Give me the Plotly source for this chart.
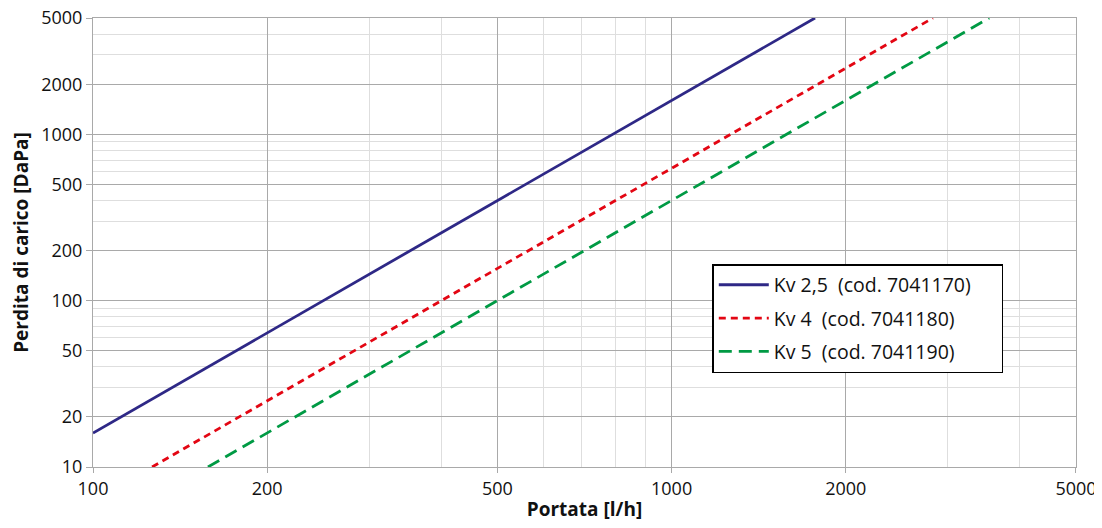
import plotly.graph_objects as go

# Data (flow in l/h, pressure drop in DaPa)
q_kv25 = [100, 200, 500, 1000, 1770]
dp_kv25 = [16, 64, 400, 1600, 5000]

q_kv4 = [126.5, 200, 500, 1000, 2000, 2830]
dp_kv4 = [10, 25, 156, 625, 2500, 5000]

q_kv5 = [158, 200, 500, 1000, 2000, 3540]
dp_kv5 = [10, 16, 100, 400, 1600, 5000]

NB = "\u00a0"
names = ["Kv 2,5" + NB + NB + "(cod. 7041170)" + NB * 5,
         "Kv 4" + NB + NB + "(cod. 7041180)",
         "Kv 5" + NB + NB + "(cod. 7041190)"]

x_major = [100, 200, 500, 1000, 2000, 5000]
x_minor = [300, 400, 600, 700, 800, 900, 3000, 4000]
y_major = [10, 20, 50, 100, 200, 500, 1000, 2000, 5000]
y_minor = [30, 40, 60, 70, 80, 90, 300, 400, 600, 700, 800, 900, 3000, 4000]

FONT = "Open Sans"

fig = go.Figure()
fig.add_trace(go.Scatter(x=q_kv25, y=dp_kv25, mode="lines", name=names[0], legendgroup="a",
                         line=dict(color="#2e2886", width=2.8)))
fig.add_trace(go.Scatter(x=q_kv4, y=dp_kv4, mode="lines", name=names[1], legendgroup="b",
                         line=dict(color="#e30613", width=2.8, dash="7px,5px")))
fig.add_trace(go.Scatter(x=q_kv5, y=dp_kv5, mode="lines", name=names[2], legendgroup="c",
                         line=dict(color="#009a44", width=2.8, dash="13px,7px")))

grid_major = "#a9a9a9"
grid_minor = "#dedede"

fig.update_xaxes(
    type="log", range=[1.99999, 3.69898], automargin=False,
    tickmode="array", tickvals=x_major, ticktext=[str(v) for v in x_major],
    ticklabeloverflow="allow",
    showgrid=True, gridcolor=grid_major, gridwidth=1,
    ticks="outside", ticklen=5, tickcolor=grid_major,
    showline=True, mirror=True, linecolor=grid_major, linewidth=1,
    minor=dict(tickmode="array", tickvals=x_minor, showgrid=True,
               gridcolor=grid_minor, gridwidth=1, ticks=""),
    tickfont=dict(family=FONT, size=18, color="#111"),
    title=dict(text="<b>Portata [l/h]</b>", font=dict(family=FONT, size=19, color="#111"),
               standoff=4),
    zeroline=False,
)
fig.update_yaxes(
    type="log", range=[0.99999, 3.69898], automargin=False,
    tickmode="array", tickvals=y_major, ticktext=[str(v) for v in y_major],
    ticklabeloverflow="allow",
    showgrid=True, gridcolor=grid_major, gridwidth=1,
    ticks="outside", ticklen=6, tickcolor=grid_major,
    showline=True, mirror=True, linecolor=grid_major, linewidth=1,
    minor=dict(tickmode="array", tickvals=y_minor, showgrid=True,
               gridcolor=grid_minor, gridwidth=1, ticks=""),
    tickfont=dict(family=FONT, size=18, color="#111"),
    title=dict(text="<b>Perdita di carico [DaPa]</b>", font=dict(family=FONT, size=19, color="#111"),
               standoff=9),
    zeroline=False,
)

fig.update_layout(
    width=1094, height=520,
    margin=dict(l=85, r=26, t=10, b=61),
    paper_bgcolor="white", plot_bgcolor="white",
    font=dict(family=FONT, color="#111"),
    legend=dict(x=0.63, y=0.452, xanchor="left", yanchor="top",
                bgcolor="white", bordercolor="#000", borderwidth=1.5,
                font=dict(family=FONT, size=19.5, color="#111"),
                itemwidth=50, tracegroupgap=5),
    showlegend=True,
)

fig.write_html("out.html")
